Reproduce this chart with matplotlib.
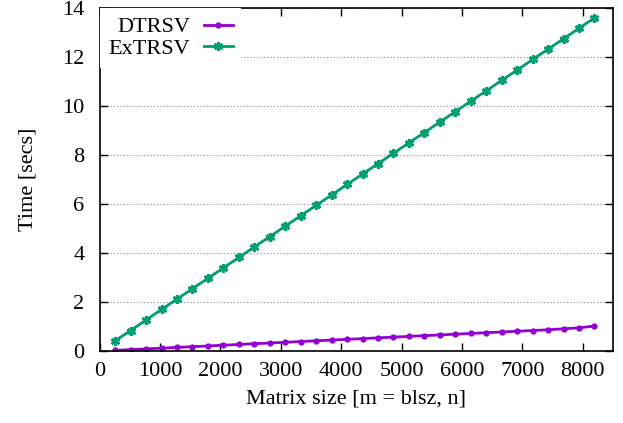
import matplotlib
matplotlib.use("Agg")
import matplotlib.pyplot as plt
from matplotlib.ticker import MultipleLocator

plt.rcParams['font.family'] = ['Liberation Serif', 'DejaVu Serif']

# matrix sizes n = 256 ... 8192
sizes = [256 * k for k in range(1, 33)]
dtrsv = [0.03, 0.06, 0.09, 0.12, 0.15, 0.18, 0.21, 0.24, 0.27, 0.30, 0.33, 0.36,
         0.39, 0.42, 0.45, 0.48, 0.51, 0.54, 0.57, 0.60, 0.63, 0.66, 0.69, 0.72,
         0.75, 0.78, 0.81, 0.84, 0.87, 0.91, 0.95, 1.02]
extrsv = [0.42, 0.84, 1.27, 1.70, 2.12, 2.55, 2.97, 3.40, 3.82, 4.25, 4.67, 5.10,
          5.52, 5.95, 6.37, 6.80, 7.22, 7.65, 8.07, 8.50, 8.92, 9.35, 9.77, 10.20,
          10.62, 11.05, 11.47, 11.90, 12.32, 12.75, 13.17, 13.60]

fs = 16

fig = plt.figure(figsize=(6.23, 4.23), dpi=100)
ax = fig.add_axes([0.160, 0.170, 0.824, 0.811])

ax.plot(sizes, dtrsv, color='#9400D3', lw=2, marker='o', ms=3.5, label='DTRSV')
ax.plot(sizes, extrsv, color='#009E73', lw=2, marker=(6, 2, 0), ms=6.5, mew=2, label='ExTRSV')

ax.set_xlim(0, 8500)
ax.set_ylim(0, 14)
ax.xaxis.set_major_locator(MultipleLocator(1000))
ax.yaxis.set_major_locator(MultipleLocator(2))
ax.tick_params(direction='in', top=True, right=True, labelsize=fs, length=6, width=1)
ax.tick_params(axis='x', pad=8)
ax.tick_params(axis='y', pad=11)
ax.grid(axis='y', color='#888888', ls=(0, (1, 2)), lw=0.8)
for s in ax.spines.values():
    s.set_linewidth(1.2)

ax.set_xlabel('Matrix size [m = blsz, n]', fontsize=fs, labelpad=6)
ax.set_ylabel('Time [secs]', fontsize=fs, labelpad=18)

leg = ax.legend(loc='upper left', markerfirst=False, fontsize=fs, frameon=True,
                fancybox=False, handlelength=1.3, borderaxespad=0.0,
                labelspacing=0.05, handletextpad=0.6, borderpad=0.4)
leg.get_frame().set_facecolor('white')
leg.get_frame().set_edgecolor('none')
leg.get_frame().set_alpha(1.0)

fig.savefig('out.png', dpi=100)
